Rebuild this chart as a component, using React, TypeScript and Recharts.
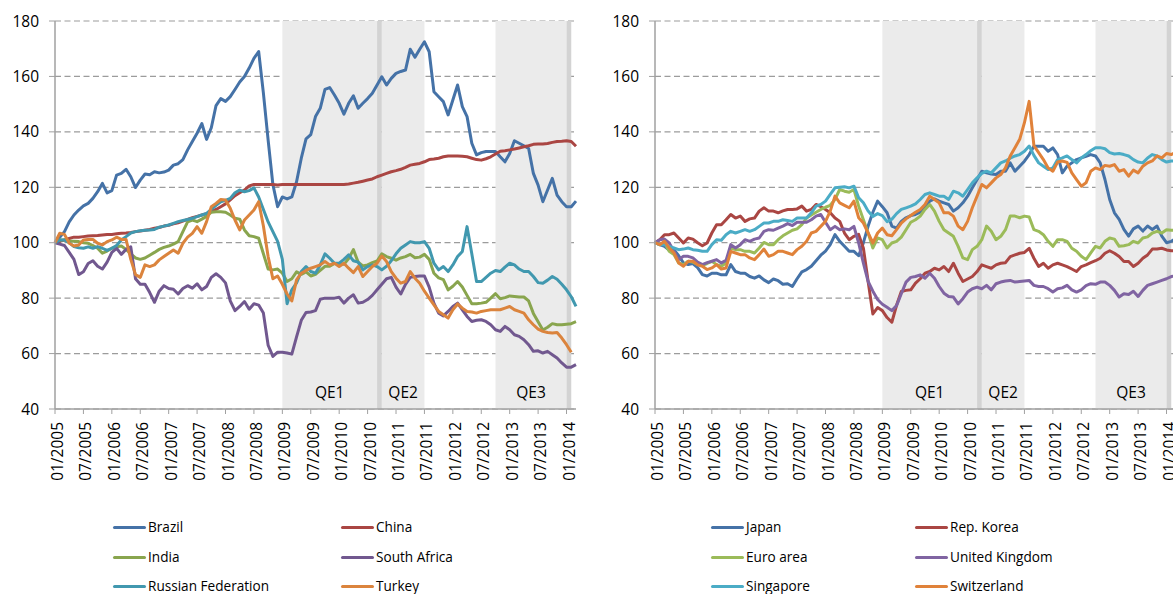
import React from 'react';
import { LineChart, Line, XAxis, YAxis, CartesianGrid, ReferenceArea } from 'recharts';

// monthly index, 01/2005 = 100
const MONTHS = Array.from({ length: 111 }, (_, i) => {
  const mm = (i % 12) + 1;
  return `${mm < 10 ? '0' + mm : mm}/${2005 + Math.floor(i / 12)}`;
});

const X_TICKS = [
  '01/2005', '07/2005', '01/2006', '07/2006', '01/2007', '07/2007', '01/2008', '07/2008', '01/2009',
  '07/2009', '01/2010', '07/2010', '01/2011', '07/2011', '01/2012', '07/2012', '01/2013', '07/2013', '01/2014',
];
const Y_TICKS = [40, 60, 80, 100, 120, 140, 160, 180];

const QE_PERIODS = [
  { name: 'QE1', from: '01/2009', to: '09/2010' },
  { name: 'QE2', from: '10/2010', to: '07/2011' },
  { name: 'QE3', from: '10/2012', to: '01/2014' },
];
const TAPER_MARKS = [
  { from: '09/2010', to: '10/2010' },
  { from: '01/2014', to: '02/2014' },
];

// left panel
const BRAZIL = [
  100, 102, 104, 107.5, 110, 111.8, 113.3, 114.2, 116, 118.4, 121.4, 118,
  118.8, 124.4, 125, 126.5, 123.8, 119.9, 122.6, 124.8, 124.5, 125.6, 125.2, 125.5,
  126.2, 128, 128.5, 130, 133.5, 136.5, 139.5, 143, 137.3, 141.5, 149.5, 152,
  151, 152.7, 155.3, 158, 160, 163, 166.5, 169, 154, 137, 121, 113,
  116.5, 115.8, 116.5, 122, 130.5, 137.5, 139, 145.5, 148.5, 155.3, 156, 153.3,
  150.3, 146.4, 150.3, 153, 148.5, 150.3, 152, 153.9, 156.9, 159.9, 156.9, 159.3,
  161.1, 161.8, 162.3, 169.8, 166.9, 169.8, 172.5, 168.9, 154.5, 152.7, 150.9, 146.1,
  151.5, 156.9, 149.1, 145.5, 135.9, 131.7, 132.5, 132.9, 132.9, 132.9, 131, 129.2,
  132.2, 136.8, 135.9, 135, 134, 125, 120.8, 114.8, 119, 123.2, 117.2, 114.8,
  113, 113, 115,
];
const CHINA = [
  100, 100.5, 101, 101.5, 102, 102, 102.2, 102.4, 102.5, 102.6, 102.8, 103,
  103, 103.2, 103.4, 103.5, 103.7, 104, 104.2, 104.5, 104.8, 105.2, 105.5, 106,
  106.3, 106.8, 107.2, 107.8, 108.4, 109, 109.5, 110, 110.5, 111.2, 112, 113,
  114, 115.5, 117, 118, 119, 120.5, 121, 121, 121, 121, 121, 120.8,
  121, 121, 121, 121, 121, 121, 121, 121, 121, 121, 121, 121,
  121, 121, 121.2, 121.5, 121.8, 122.2, 122.6, 123, 123.8, 124.4, 125, 125.6,
  126, 126.5, 127.2, 128, 128.3, 128.6, 129.2, 130, 130.2, 130.5, 131, 131.3,
  131.3, 131.3, 131.2, 131, 130.5, 130, 129.8, 130.3, 131, 132, 133, 133.2,
  133.5, 133.8, 134.2, 134.6, 135, 135.5, 135.6, 135.6, 135.8, 136.2, 136.5, 136.6,
  136.8, 136.5, 134.8,
];
const INDIA = [
  100, 101, 101, 100.5, 100.5, 100.4, 100, 99.8, 99, 98, 96.2, 97,
  98, 98.5, 98.8, 97.6, 96, 94.5, 94, 94.5, 95.5, 96.5, 97.6, 98.3,
  98.8, 99.5, 100.4, 104, 107.5, 108.2, 107.6, 108.5, 109.5, 111, 111.2, 111.2,
  111, 110, 108.8, 108.5, 104.6, 102.5, 102.2, 101.6, 96, 90.5, 90.2, 90.5,
  89, 86, 87, 89.5, 88.6, 89.5, 88, 88.6, 90, 91.5, 91.5, 92.5,
  92.5, 92.2, 94.3, 97.5, 93, 91.6, 92, 92.8, 93.4, 96, 95, 94.4,
  93.7, 94.5, 95, 95.8, 94.6, 94.8, 95.8, 94, 89, 87.3, 86.7, 83,
  84.3, 86, 84, 81, 78, 78, 78.2, 78.5, 80, 81.6, 79.8, 80.2,
  80.8, 80.6, 80.4, 80.4, 79, 74.5, 71.5, 68.5, 69.5, 70.8, 70.4, 70.4,
  70.6, 70.8, 71.5,
];
const SOUTH_AFRICA = [
  100, 99.5, 99, 96.5, 94, 88.5, 89.5, 92.5, 93.5, 91.5, 90.5, 93,
  96.5, 98, 95.8, 97.6, 98.5, 87, 85, 85, 82, 78.5, 82.5, 84.5,
  83.5, 83.2, 81.5, 83.5, 84.5, 83.6, 85.2, 83, 84.2, 87.5, 88.8, 87.5,
  85.5, 79, 75.5, 77, 78.8, 76, 78, 77.5, 74.6, 63, 59, 60.5,
  60.5, 60.2, 59.8, 66, 72, 74.8, 75, 75.5, 79.6, 80, 80, 80,
  80.3, 78.2, 80, 81.2, 78.2, 78.5, 79.5, 81, 83, 85, 87, 87.5,
  84, 81.5, 85, 87.5, 87.8, 88, 88, 84, 78.2, 74.6, 73.6, 75.2,
  77, 78.2, 75.8, 73.4, 71.6, 72, 72.2, 71.6, 70.4, 68.6, 68, 69.8,
  68.6, 66.8, 66.2, 65, 63.2, 60.8, 61, 60.2, 60.8, 59.6, 58.4, 56.6,
  55.1, 55.1, 56,
];
const RUSSIA = [
  100, 101, 101, 100, 98.6, 98.2, 98, 98.5, 98, 98.6, 98, 97.2,
  98, 99, 101, 102.2, 103.5, 104, 104.3, 104.5, 104.6, 104.8, 105.6, 106,
  106.4, 107, 107.6, 108, 108.4, 108.8, 109.4, 110, 110.6, 112, 113.5, 114.8,
  115.3, 116, 118, 119, 118.4, 118.8, 119.8, 116.5, 112, 107.5, 104, 100.5,
  94, 78, 83, 85.5, 89.6, 91.4, 89.6, 89, 92, 96, 94.4, 92.6,
  92.6, 94, 95.6, 93.5, 93, 90.2, 91.4, 92, 91.4, 90.2, 91.5, 93.5,
  96, 98, 99.2, 100.4, 100, 100, 100.4, 98, 92.6, 90.2, 91.4, 89.6,
  92, 95, 96.8, 105.8, 96, 86, 86, 87.5, 89, 90, 89.6, 91.2,
  92.6, 92, 90.5, 89.6, 89.6, 87.8, 85.6, 85.4, 86.5, 87.8, 86.8, 85,
  83, 80.5, 77,
];
const TURKEY = [
  100, 103.4, 103, 99.8, 98.8, 99.2, 101, 101.2, 101.2, 99.8, 99.2, 100.4,
  101, 102, 101.2, 101.2, 94, 88.5, 87.5, 92, 91.4, 92, 93.8, 95,
  96.2, 97.4, 96.2, 99.8, 102, 103.4, 105.8, 103.4, 107.6, 113, 114.2, 115.6,
  115.4, 112.4, 108.2, 104.6, 108.2, 110, 111.8, 114.8, 106, 95, 87, 88,
  85, 81.5, 79, 86.6, 89, 90, 90.8, 91.4, 92, 93.2, 92, 92.6,
  91.4, 92.6, 90.8, 89.2, 91.4, 87.8, 89.6, 91.4, 92.6, 95.2, 93.2, 89.6,
  87.2, 85.4, 86, 89.6, 87.2, 85.4, 82.5, 80, 77.6, 75.2, 74, 72.8,
  75.8, 77.9, 76.4, 75.2, 75, 74.6, 75.2, 75.5, 75.8, 75.8, 75.8, 76.4,
  77, 75.8, 75.2, 74.6, 72.2, 70.4, 68.8, 68, 67.6, 67.4, 67.6, 65.6,
  63.2, 60.5, null,
];

// right panel
const JAPAN = [
  100, 99.3, 98.7, 97.3, 97.5, 95.3, 92.7, 92.1, 92.5, 91, 88.5, 88,
  89, 89, 88.4, 88.4, 92.1, 89.6, 89, 89, 87.8, 87.2, 88, 86.6,
  85.6, 86.9, 86.3, 85, 85.2, 84.2, 87, 89.5, 90.3, 91.5, 93.5, 95.5,
  97, 99.3, 102.9, 100.5, 98.7, 96.9, 96.9, 95.3, 100, 106, 111, 115,
  113, 110.8, 106, 105.3, 107.7, 109, 109.8, 110.2, 111, 112.6, 115, 115.8,
  115, 114.4, 113.8, 111.4, 112.6, 114.4, 116.8, 119.8, 122.8, 125.8, 125.2, 124.8,
  124.6, 125.8, 125.8, 128.8, 125.8, 127.6, 129.4, 131.8, 134.8, 134.8, 134.8, 133,
  134.2, 131.8, 125.2, 127.6, 128.8, 130, 130.6, 131.2, 131.8, 131.3, 128.8, 122.8,
  115.6, 110.8, 108.4, 104.8, 102.4, 105, 106, 104.2, 106, 104.8, 106, 102.4,
  100, 100.5, 101.5,
];
const KOREA = [
  100, 101.1, 102.9, 102.9, 103.5, 101.7, 99.9, 101.7, 101.3, 100, 98.9, 99.9,
  103.5, 106.5, 106.5, 108.3, 110.2, 108.9, 109.6, 107.7, 108.6, 108.9, 111.4, 112.6,
  111.4, 111.4, 110.8, 111.5, 112, 112, 112.2, 113.2, 111.4, 112, 113.8, 113,
  112, 110.8, 108.9, 107.7, 103.5, 101.1, 102.3, 103, 98, 86, 74.3, 76.6,
  75.5, 73, 71.3, 77.4, 82.4, 82.8, 83, 85.4, 87, 89, 89.6, 90.8,
  90.2, 91.4, 89.6, 92.6, 89, 86, 86.9, 87.8, 89.6, 92, 91.4, 90.8,
  92, 92.6, 92.8, 95, 95.6, 96.2, 96.5, 98, 94.4, 91.4, 92.6, 90.8,
  92, 92.6, 92, 91.4, 90.5, 89.6, 91.4, 92, 92.8, 93.5, 94.4, 96.2,
  97.1, 96.2, 95, 93.2, 93.2, 91.4, 92.6, 94.4, 95.6, 97.7, 97.7, 98,
  97.4, 97.1, 97,
];
const EURO_AREA = [
  100, 99.3, 99.9, 96.9, 95.7, 92.7, 92.1, 93.3, 93, 92.2, 91.8, 92.5,
  93.3, 92.1, 91.5, 92.7, 98.1, 97.5, 97.5, 96.9, 96.9, 96.3, 98.1, 100.1,
  99.3, 99.3, 101.1, 102.5, 103.5, 104.5, 105, 106.5, 108.9, 110, 111, 112,
  112.8, 113.5, 115.6, 119.2, 118.6, 118.2, 119.2, 113.2, 108.3, 103.5, 98.1, 101.7,
  101.1, 98.1, 99.9, 100.5, 102, 104.7, 107.4, 108.3, 109.6, 112, 113.8, 111.4,
  107.7, 104.7, 103.5, 102.3, 98.7, 94.5, 93.9, 97.5, 98.7, 101.1, 106, 104.1,
  101.1, 102.3, 104.7, 109.6, 109.6, 109, 109.6, 109.3, 104.7, 104.1, 102.9, 100.5,
  98.7, 101.1, 101.1, 100.5, 98, 96.9, 95.1, 93.9, 96.3, 98.7, 98.1, 100.5,
  101.7, 101.3, 98.7, 98.9, 99.3, 100.5, 99.9, 101.7, 102.1, 103.5, 104.1, 103.5,
  104.7, 104.5, 104.4,
];
const UK = [
  100, 101.1, 101.3, 99.9, 96.9, 93.9, 95.1, 95.1, 94.5, 93, 92.1, 92.8,
  93.3, 93.9, 92.7, 93.6, 99.3, 98.1, 99.3, 101.1, 100.5, 101.3, 101.7, 104.1,
  104.7, 104.5, 105.3, 106, 106.9, 106.2, 107.4, 107.4, 107.4, 108.3, 109.6, 110.2,
  107.4, 104.7, 105.9, 104.7, 105, 104.7, 105.9, 99.9, 92.6, 86, 82.5, 79.5,
  77.8, 76.7, 75.5, 77.3, 81.6, 85.8, 87.5, 87.8, 88.4, 87.2, 89, 87.2,
  84.2, 81.8, 80.6, 80.4, 77.9, 79.8, 82.2, 83.4, 84, 83.4, 84.6, 83,
  85.2, 85.8, 86.2, 86.4, 85.8, 86, 86.2, 86.4, 84.6, 84.2, 84.2, 83.4,
  82.2, 83.4, 83.7, 84.6, 83, 82.2, 83, 84.5, 85.2, 85, 85.8, 85.8,
  84.6, 82.8, 80.4, 81.6, 81.3, 82.5, 80.6, 82.8, 84.6, 85.2, 85.8, 86.4,
  87, 87.8, 88,
];
const SINGAPORE = [
  100, 99.3, 99.3, 98.7, 98.1, 97.5, 97.7, 98.1, 97.5, 97.3, 96.9, 96.9,
  99.3, 101.1, 100.9, 102.9, 104.1, 103.5, 104.1, 104.7, 104.1, 104.7, 105.9, 107.1,
  107.1, 107.7, 107.7, 108.3, 108, 107.7, 108.9, 108.9, 108.9, 110.8, 113.2, 113.8,
  115, 117.4, 119.8, 120, 120.2, 119.8, 120.4, 116.2, 114.4, 111.4, 109.5, 110.5,
  109.8, 107.6, 108.5, 110.5, 112, 112.6, 113.2, 114, 115.6, 117.4, 118, 117.4,
  116.8, 116.8, 115.6, 118.6, 118, 116.8, 119.2, 121.6, 123.4, 125, 125.8, 125.2,
  127, 128.8, 129.5, 130.5, 131.3, 131.8, 133, 134.9, 131.5, 128.8, 127.6, 126.4,
  127, 130, 130.6, 131.3, 130, 128.8, 130.6, 131.8, 133.2, 134.3, 134.3, 133.9,
  132.5, 132, 132.2, 131.8, 131.3, 130, 129.1, 128.8, 130.6, 131.8, 131.3, 130,
  129.1, 129.5, 129.5,
];
const SWITZERLAND = [
  100, 99.3, 100.5, 98.1, 96.3, 92.7, 91.5, 93.3, 93.3, 92, 91.5, 90.3,
  90.9, 92.1, 90.5, 90.9, 96.9, 96.3, 95.7, 95.7, 94.5, 93.9, 95.7, 97.7,
  95.1, 95.7, 96.9, 96.9, 96.3, 95.7, 97.5, 98.7, 100.5, 103.5, 104.1, 105.9,
  107.7, 111.4, 116.8, 114.4, 113.5, 112.6, 115, 109, 107.1, 103.5, 99.9, 103.5,
  105.3, 102.9, 102.5, 104.7, 107.1, 108.6, 109.8, 111, 112, 113.8, 116.8, 115.6,
  114.4, 110.8, 110.8, 109.6, 106, 104.7, 107.7, 112.6, 116.8, 121, 119.8, 121.6,
  123.4, 124.6, 127, 131.3, 134.3, 137.3, 143.3, 151, 135, 132.5, 130, 127,
  125.8, 129.1, 129.5, 129, 125.2, 122.8, 120.4, 121.6, 125.8, 127, 126.4, 127.9,
  127.6, 128.2, 125.8, 126.4, 124, 126.2, 125.2, 127.6, 128.8, 129.5, 131.3, 130.6,
  132.2, 131.8, 132.7,
];

const LEFT_SERIES = [
  { key: 'Brazil', values: BRAZIL, color: '#4572A7' },
  { key: 'China', values: CHINA, color: '#AA4643' },
  { key: 'India', values: INDIA, color: '#89A54E' },
  { key: 'South Africa', values: SOUTH_AFRICA, color: '#71588F' },
  { key: 'Russian Federation', values: RUSSIA, color: '#4198AF' },
  { key: 'Turkey', values: TURKEY, color: '#DB843D' },
];
const RIGHT_SERIES = [
  { key: 'Japan', values: JAPAN, color: '#4572A7' },
  { key: 'Rep. Korea', values: KOREA, color: '#AA4643' },
  { key: 'Euro area', values: EURO_AREA, color: '#9BBB59' },
  { key: 'United Kingdom', values: UK, color: '#8064A2' },
  { key: 'Singapore', values: SINGAPORE, color: '#4BACC6' },
  { key: 'Switzerland', values: SWITZERLAND, color: '#E0823A' },
];

const FONT = "'Open Sans', sans-serif";
const idx = (label: string) => MONTHS.indexOf(label);

function buildRows(series: typeof LEFT_SERIES) {
  return MONTHS.map((m, i) => {
    const row: Record<string, any> = { i, m };
    series.forEach((s) => (row[s.key] = s.values[i]));
    return row;
  });
}

const XTick = (props: any) => {
  const { x, y, payload } = props;
  const cx = x + 2;
  return (
    <text
      x={cx}
      y={y}
      transform={`rotate(-90 ${cx} ${y})`}
      textAnchor="end"
      dominantBaseline="central"
      fontSize={15.5}
      fontFamily={FONT}
      fill="#000"
    >
      {MONTHS[payload.value]}
    </text>
  );
};

function Panel({ series, left }: { series: typeof LEFT_SERIES; left: number }) {
  const rows = buildRows(series);
  return (
    <div style={{ position: 'absolute', left, top: 0 }}>
      <LineChart width={590} height={500} data={rows} margin={{ top: 21, right: 14, bottom: 0, left: 0 }}>
        {QE_PERIODS.map((q) => (
          <ReferenceArea
            key={q.name}
            x1={idx(q.from)}
            x2={idx(q.to)}
            y1={40}
            y2={180}
            fill="#ebebeb"
            fillOpacity={1}
            stroke="none"
            label={{ value: q.name, position: 'insideBottom', offset: 11, fill: '#000', fontSize: 15.5, fontFamily: FONT }}
          />
        ))}
        {TAPER_MARKS.map((t) => (
          <ReferenceArea
            key={t.from}
            x1={idx(t.from)}
            x2={idx(t.to)}
            y1={40}
            y2={180}
            fill="#d3d3d3"
            fillOpacity={1}
            stroke="none"
          />
        ))}
        <CartesianGrid vertical={false} stroke="#9c9c9c" strokeDasharray="6 3.5" strokeWidth={1.2} />
        <XAxis
          dataKey="i"
          type="number"
          domain={[0, MONTHS.length - 1]}
          ticks={X_TICKS.map(idx)}
          interval={0}
          height={91}
          tickSize={5}
          tickMargin={8}
          axisLine={{ stroke: '#a0a0a0', strokeWidth: 1.5 }}
          tickLine={{ stroke: '#a0a0a0' }}
          tick={<XTick />}
        />
        <YAxis
          domain={[40, 180]}
          ticks={Y_TICKS}
          interval={0}
          width={55}
          tickSize={6}
          tickMargin={10}
          axisLine={{ stroke: '#a0a0a0', strokeWidth: 1.5 }}
          tickLine={{ stroke: '#a0a0a0' }}
          tick={{ fill: '#000', fontSize: 15.5, fontFamily: FONT }}
        />
        {series.map((s) => (
          <Line
            key={s.key}
            type="linear"
            dataKey={s.key}
            stroke={s.color}
            strokeWidth={3}
            strokeLinejoin="round"
            dot={false}
            isAnimationActive={false}
          />
        ))}
      </LineChart>
    </div>
  );
}

function LegendBlock({ series, cols }: { series: typeof LEFT_SERIES; cols: number[] }) {
  const rowsY = [527, 557, 586];
  return (
    <>
      {series.map((s, k) => {
        const x = cols[k % 2];
        const y = rowsY[Math.floor(k / 2)];
        return (
          <React.Fragment key={s.key}>
            <div
              style={{
                position: 'absolute',
                left: x,
                top: y - 1.5,
                width: 33,
                height: 3,
                borderRadius: 1.5,
                background: s.color,
              }}
            />
            <div
              style={{
                position: 'absolute',
                left: x + 35,
                top: y - 9,
                lineHeight: '18px',
                fontSize: 13.6,
                fontFamily: FONT,
                color: '#000',
                whiteSpace: 'nowrap',
              }}
            >
              {s.key}
            </div>
          </React.Fragment>
        );
      })}
    </>
  );
}

export default function App() {
  return (
    <div
      style={{
        position: 'absolute',
        left: 0,
        top: 0,
        width: 1173,
        height: 594,
        overflow: 'hidden',
        background: '#fff',
        fontFamily: FONT,
      }}
    >
      <Panel series={LEFT_SERIES} left={0} />
      <Panel series={RIGHT_SERIES} left={600} />
      <LegendBlock series={LEFT_SERIES} cols={[113, 341]} />
      <LegendBlock series={RIGHT_SERIES} cols={[711, 915]} />
    </div>
  );
}
